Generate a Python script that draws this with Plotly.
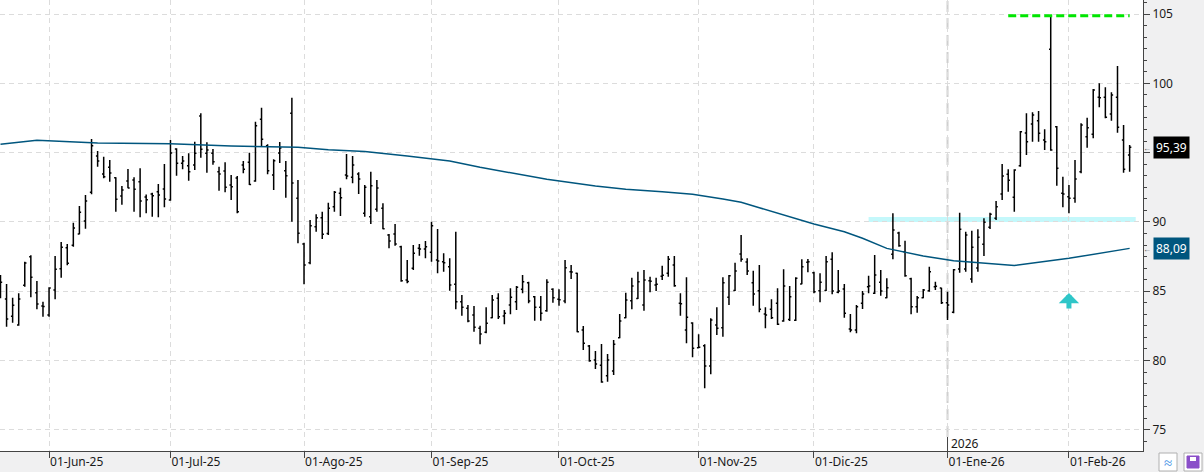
import pandas as pd
import plotly.graph_objects as go

# ---------------- data ----------------
HOLIDAYS = ["2025-05-26", "2025-06-19", "2025-07-04", "2025-09-01", "2025-11-27",
            "2025-12-25", "2026-01-01", "2026-01-19", "2026-02-16"]
dates = pd.bdate_range("2025-05-20", "2026-02-17", freq="C", holidays=HOLIDAYS)
date_str = [d.strftime("%Y-%m-%d") for d in dates]

OPEN = [86.05, 84.44, 83.19, 82.56, 85.43, 87.49, 84.89, 83.93, 83.28, 85.09,
        86.62, 88.14, 88.31, 89.13, 90.07, 92.14, 94.75, 93.46, 93.94, 93.19,
        91.87, 92.95, 93.02, 92.90, 91.80, 92.01, 92.18, 92.37, 91.58, 95.26,
        94.23, 94.05, 94.11, 97.64, 94.95, 94.95, 93.62, 93.67, 92.66, 93.17,
        94.11, 94.30, 92.95, 97.40, 95.50, 93.38, 94.97, 93.69, 97.84, 91.70,
        88.41, 87.06, 89.65, 90.30, 89.17, 91.10, 92.06, 93.38, 93.22, 93.46,
        90.62, 90.38, 90.91, 90.98, 89.05, 89.13, 88.20, 85.81, 86.65, 88.10,
        88.04, 87.81, 87.25, 87.13, 86.77, 85.50, 84.24, 83.77, 83.28, 82.32,
        82.03, 83.08, 84.49, 83.21, 84.00, 84.24, 85.14, 85.61, 84.60, 83.84,
        83.59, 85.14, 84.42, 84.29, 86.41, 86.29, 82.20, 81.05, 80.04, 79.65,
        78.90, 79.24, 81.65, 83.09, 84.31, 84.48, 84.00, 85.76, 85.45, 86.08,
        86.29, 86.89, 84.13, 82.20, 82.70, 80.92, 81.07, 79.60, 82.56, 82.37,
        84.56, 85.05, 87.68, 87.11, 85.61, 85.04, 83.36, 83.69, 84.13, 82.85,
        82.95, 82.90, 85.52, 87.08, 86.33, 85.04, 85.05, 87.30, 84.92, 85.16,
        82.27, 82.20, 84.13, 85.32, 84.86, 85.64, 84.53, 87.66, 89.20, 87.85,
        85.90, 83.88, 84.53, 85.04, 85.32, 85.23, 84.17, 83.48, 86.60, 86.60,
        85.88, 86.67, 88.38, 89.61, 90.26, 92.01, 93.43, 91.77, 94.05, 96.41,
        97.06, 97.30, 95.91, 102.45, 96.87, 92.06, 91.82, 91.70, 93.62, 96.15,
        96.32, 98.99, 98.99, 97.78, 99.00, 95.91, 94.83]
HIGH = [86.17, 85.52, 84.53, 84.85, 87.13, 87.59, 85.74, 84.24, 85.28, 87.54,
        88.55, 88.41, 89.94, 91.15, 91.94, 95.98, 95.12, 94.70, 94.47, 93.22,
        92.59, 93.82, 93.22, 93.87, 91.98, 92.11, 92.73, 94.18, 95.91, 95.31,
        94.75, 94.95, 95.79, 97.84, 95.74, 95.26, 93.98, 94.30, 93.38, 93.31,
        94.39, 94.99, 97.23, 98.24, 95.60, 94.52, 95.76, 94.39, 98.96, 93.02,
        88.50, 90.14, 90.55, 90.74, 91.39, 92.23, 92.47, 94.90, 94.75, 93.58,
        92.66, 93.62, 93.02, 91.34, 89.13, 89.85, 88.28, 87.25, 88.33, 88.41,
        88.62, 90.01, 89.49, 87.73, 87.37, 89.29, 84.73, 84.00, 83.93, 82.51,
        83.84, 84.73, 84.85, 83.64, 85.21, 85.38, 86.17, 85.69, 84.65, 84.65,
        85.86, 85.21, 85.14, 87.25, 86.89, 86.33, 82.49, 81.12, 80.69, 81.19,
        80.47, 81.48, 83.36, 84.89, 85.97, 86.41, 86.53, 86.05, 85.97, 86.84,
        87.54, 87.54, 84.85, 86.00, 82.76, 81.89, 81.17, 83.04, 83.84, 86.00,
        86.17, 87.06, 89.05, 87.37, 86.48, 86.89, 83.84, 84.42, 85.21, 86.58,
        85.38, 86.00, 87.30, 87.32, 86.41, 86.29, 87.54, 87.81, 86.53, 85.52,
        83.36, 84.00, 85.01, 86.12, 87.61, 86.53, 85.93, 90.62, 89.29, 88.64,
        85.97, 84.65, 85.16, 86.77, 85.69, 85.25, 84.96, 86.60, 90.66, 89.29,
        89.36, 89.47, 90.26, 90.66, 91.51, 94.18, 93.79, 93.79, 96.56, 97.84,
        97.91, 98.00, 96.68, 104.88, 96.92, 93.26, 92.66, 94.47, 97.11, 97.52,
        99.59, 100.00, 99.71, 99.35, 101.25, 96.99, 95.55]
LOW = [84.49, 82.44, 82.73, 82.51, 85.32, 84.56, 83.69, 83.16, 83.16, 84.42,
       85.97, 86.87, 88.21, 89.11, 89.51, 91.99, 93.98, 93.15, 92.90, 90.74,
       91.24, 92.42, 90.74, 90.33, 90.62, 90.38, 90.33, 91.05, 91.53, 93.33,
       93.79, 92.97, 93.74, 94.63, 93.55, 94.13, 92.25, 92.14, 91.58, 90.62,
       93.51, 92.66, 92.90, 95.48, 93.43, 92.30, 94.25, 91.75, 90.01, 88.46,
       85.50, 86.94, 89.29, 88.77, 89.05, 90.74, 90.43, 93.07, 92.79, 92.01,
       90.38, 89.85, 90.74, 89.47, 88.10, 88.28, 85.69, 85.57, 86.53, 87.56,
       87.37, 87.13, 86.29, 86.41, 85.04, 83.69, 83.23, 82.76, 82.08, 81.17,
       81.96, 83.04, 83.00, 82.61, 83.33, 83.64, 84.85, 84.13, 82.87, 82.87,
       83.52, 84.17, 83.95, 84.13, 85.88, 82.03, 80.76, 79.91, 79.39, 78.40,
       78.47, 78.95, 81.60, 83.04, 83.69, 84.44, 83.59, 84.92, 85.01, 85.81,
       86.05, 85.32, 83.23, 81.24, 80.23, 80.88, 77.99, 79.00, 81.84, 81.72,
       84.00, 85.01, 87.13, 86.17, 83.95, 83.48, 82.32, 83.00, 82.56, 82.80,
       82.85, 82.85, 85.50, 86.36, 84.85, 84.20, 85.01, 84.78, 84.85, 83.09,
       82.03, 81.96, 83.72, 84.85, 84.80, 84.67, 84.49, 87.30, 88.21, 86.05,
       83.33, 83.45, 84.49, 84.96, 85.09, 84.08, 82.92, 83.41, 86.33, 86.41,
       85.61, 86.41, 87.54, 89.49, 90.14, 91.58, 92.18, 90.74, 93.98, 94.83,
       95.79, 95.79, 95.19, 95.14, 92.61, 91.05, 90.62, 91.39, 93.51, 95.35,
       96.03, 98.27, 97.47, 97.30, 96.44, 93.55, 93.62]
CLOSE = [85.64, 82.99, 83.98, 84.44, 87.03, 86.00, 84.08, 83.90, 85.23, 86.58,
         88.17, 87.01, 89.56, 90.69, 91.51, 95.50, 94.39, 93.26, 93.53, 91.63,
         92.30, 92.45, 92.35, 91.51, 91.60, 91.89, 91.94, 91.65, 94.97, 94.23,
         94.39, 93.62, 94.95, 95.24, 95.19, 94.34, 93.46, 92.50, 92.54, 90.74,
         93.79, 92.70, 96.94, 95.96, 93.69, 94.42, 95.33, 93.33, 92.81, 89.18,
         86.89, 89.73, 90.30, 89.11, 90.98, 92.14, 91.75, 93.31, 94.11, 93.10,
         92.50, 92.60, 92.45, 89.50, 88.62, 88.41, 85.76, 85.70, 87.73, 88.05,
         88.21, 89.73, 87.18, 87.06, 85.45, 84.24, 83.84, 82.85, 82.40, 81.91,
         82.68, 84.36, 83.16, 83.41, 84.56, 85.28, 85.69, 84.29, 83.84, 83.41,
         85.64, 84.53, 84.38, 86.70, 86.38, 82.08, 81.24, 79.99, 79.75, 78.45,
         80.04, 81.17, 82.85, 84.36, 85.38, 85.69, 85.81, 85.72, 85.50, 86.15,
         87.30, 85.40, 84.10, 83.12, 80.88, 80.95, 79.60, 82.92, 82.32, 85.61,
         86.12, 86.46, 87.30, 86.46, 84.80, 83.69, 83.28, 83.09, 82.61, 85.38,
         84.60, 85.93, 86.77, 87.13, 84.96, 85.64, 87.13, 85.01, 85.01, 83.41,
         82.20, 83.88, 84.80, 85.38, 86.17, 85.01, 85.25, 89.42, 88.28, 86.12,
         83.88, 84.53, 85.09, 86.41, 85.36, 84.17, 84.00, 86.55, 89.47, 89.05,
         88.17, 88.89, 89.97, 90.55, 91.10, 93.31, 93.00, 93.74, 96.51, 95.79,
         97.71, 96.39, 95.79, 95.19, 93.87, 92.02, 91.70, 93.10, 97.00, 96.80,
         99.52, 98.95, 97.55, 99.16, 96.82, 93.79, 95.39]

MA_DATES = ["2025-05-20", "2025-05-29", "2025-06-12", "2025-07-01", "2025-07-16",
            "2025-07-31", "2025-08-07", "2025-08-15", "2025-08-26", "2025-09-05",
            "2025-09-12", "2025-09-22", "2025-09-29", "2025-10-09", "2025-10-16",
            "2025-10-24", "2025-10-31", "2025-11-07", "2025-11-12", "2025-11-17",
            "2025-11-25", "2025-12-01", "2025-12-08", "2025-12-11", "2025-12-17",
            "2025-12-26", "2026-01-05", "2026-01-13", "2026-01-20", "2026-02-02",
            "2026-02-17"]
MA_VALUES = [95.60, 95.89, 95.70, 95.64, 95.48, 95.38, 95.20, 95.08, 94.75, 94.40,
             93.94, 93.45, 93.07, 92.59, 92.35, 92.18, 91.99, 91.65, 91.41, 91.02,
             90.26, 89.85, 89.29, 88.82, 88.09, 87.54, 87.20, 87.01, 86.86, 87.37,
             88.09]

SUPPORT_LEVEL = 90.17
SUPPORT_START = "2025-12-12"
RESIST_START = "2026-01-16"
ARROW_DATE = "2026-02-02"
ARROW_TIP = 84.87

MESES = {1: "Ene", 2: "Feb", 3: "Mar", 4: "Abr", 5: "May", 6: "Jun", 7: "Jul",
         8: "Ago", 9: "Sep", 10: "Oct", 11: "Nov", 12: "Dic"}
Y_TICKS = [75, 80, 85, 90, 95, 100, 105]

# ---------------- derived ----------------
xi = list(range(len(dates)))
pos = {d: i for i, d in enumerate(date_str)}
last = xi[-1]

tickvals, ticktext = [], []
for i in range(1, len(dates)):
    if dates[i].month != dates[i - 1].month:
        tickvals.append(i)
        ticktext.append("01-%s-%s" % (MESES[dates[i].month], dates[i].strftime("%y")))
year_idx = next(i for i in range(1, len(dates)) if dates[i].year != dates[i - 1].year)

last_close = CLOSE[-1]
last_ma = MA_VALUES[-1]
# y tick labels hidden behind the last-value boxes (as in the original)
y_ticktext = ["" if min(abs(t - last_close), abs(t - last_ma)) < 0.75 else str(t)
              for t in Y_TICKS]

PW, PH = 1143.0, 451.0   # plot area in px


def px_x(p):
    return p / PW


def px_y(p):
    return (PH - p) / PH


fig = go.Figure()
fig.add_trace(go.Ohlc(
    x=xi, open=OPEN, high=HIGH, low=LOW, close=CLOSE,
    increasing=dict(line=dict(color="black", width=1.5)),
    decreasing=dict(line=dict(color="black", width=1.5)),
    tickwidth=0.28, hoverinfo="skip", showlegend=False))
fig.add_trace(go.Scatter(
    x=[pos[d] for d in MA_DATES], y=MA_VALUES, mode="lines",
    line=dict(color="#00567e", width=1.5), hoverinfo="skip", showlegend=False))

shapes = []
shapes.append(dict(type="line", xref="x", yref="y", x0=pos[SUPPORT_START], x1=last + 1,
                   y0=SUPPORT_LEVEL, y1=SUPPORT_LEVEL, layer="below",
                   line=dict(color="#c4f8fb", width=5)))
shapes.append(dict(type="line", xref="x", yref="y", x0=pos[RESIST_START], x1=last,
                   y0=max(HIGH), y1=max(HIGH),
                   line=dict(color="#00e600", width=3, dash="8px,4px")))
shapes.append(dict(type="line", xref="x", yref="paper", x0=year_idx, x1=year_idx,
                   y0=px_y(437), y1=1, layer="below",
                   line=dict(color="#cfcfcf", width=2, dash="11px,6px")))
shapes.append(dict(type="line", xref="x", yref="paper", x0=year_idx, x1=year_idx,
                   y0=0, y1=px_y(437), line=dict(color="#444", width=1)))
shapes.append(dict(type="rect", xref="paper", yref="paper", x0=px_x(1159), x1=px_x(1177),
                   y0=px_y(471), y1=px_y(453), line=dict(color="#b0b0b0", width=1),
                   fillcolor="#ffffff"))
shapes.append(dict(type="rect", xref="paper", yref="paper", x0=px_x(1184), x1=px_x(1202),
                   y0=px_y(471), y1=px_y(453), line=dict(color="#b0b0b0", width=1),
                   fillcolor="#ffffff"))
shapes.append(dict(type="rect", xref="paper", yref="paper", x0=px_x(1187), x1=px_x(1199),
                   y0=px_y(468), y1=px_y(456), line=dict(color="#8a4fc9", width=1),
                   fillcolor="#8a4fc9"))
shapes.append(dict(type="rect", xref="paper", yref="paper", x0=px_x(1190), x1=px_x(1196),
                   y0=px_y(461), y1=px_y(457), line=dict(width=0), fillcolor="#ffffff"))

annotations = []
annotations.append(dict(x=pos[ARROW_DATE], y=ARROW_TIP, xref="x", yref="y", text="",
                        showarrow=True, ax=0, ay=17, arrowhead=1, arrowsize=0.68,
                        arrowwidth=5, arrowcolor="#2fc6c8"))
annotations.append(dict(x=year_idx, y=px_y(443), xref="x", yref="paper", text="2026",
                        showarrow=False, xanchor="left", yanchor="middle", xshift=1,
                        font=dict(size=12, color="#1a1a1a")))
for val, bg in [(last_close, "#000000"), (last_ma, "#00567e")]:
    annotations.append(dict(x=px_x(1153), y=val, xref="paper", yref="y",
                            text=("%.2f" % val).replace(".", ","), showarrow=False,
                            xanchor="left", yanchor="middle", bgcolor=bg, borderpad=2,
                            font=dict(size=12, color="white")))
    annotations.append(dict(x=px_x(1147), y=val, xref="paper", yref="y", text="←",
                            showarrow=False, xanchor="center", yanchor="middle", borderpad=0,
                            font=dict(size=8, color="#555")))
annotations.append(dict(x=px_x(1168), y=px_y(462), xref="paper", yref="paper", text="≈",
                        showarrow=False, xanchor="center", yanchor="middle",
                        font=dict(size=15, color="#3a8ee6")))

fig.update_layout(
    width=1204, height=472,
    margin=dict(l=0, r=61, t=0, b=21),
    paper_bgcolor="#f0f0f1", plot_bgcolor="#ffffff",
    font=dict(family="Noto Sans", size=12, color="#1a1a1a"),
    showlegend=False, shapes=shapes, annotations=annotations,
    xaxis=dict(range=[-0.08, 188.2], tickmode="array", tickvals=tickvals, ticktext=ticktext,
               ticks="outside", ticklen=6, tickcolor="#444", ticklabelposition="outside right",
               tickfont=dict(size=12, color="#1a1a1a"),
               showgrid=True, gridcolor="#dcdcdc", griddash="5px,4px", gridwidth=1,
               showline=True, linecolor="#444", linewidth=1, zeroline=False,
               rangeslider=dict(visible=False)),
    yaxis=dict(side="right", range=[73.47, 106.01], tickmode="array", tickvals=Y_TICKS,
               ticktext=y_ticktext,
               ticks="outside", ticklen=6, tickcolor="#444",
               tickfont=dict(size=12, color="#1a1a1a"),
               minor=dict(tick0=75, dtick=5 / 6, ticklen=3, tickcolor="#444", showgrid=False),
               showgrid=True, gridcolor="#dcdcdc", griddash="5px,4px", gridwidth=1,
               showline=True, linecolor="#444", linewidth=1, zeroline=False),
)

fig.write_html("out.html")
